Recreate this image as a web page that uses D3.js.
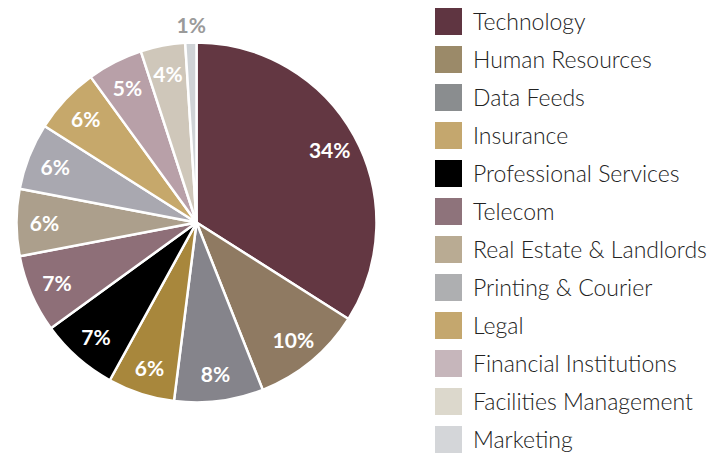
<!DOCTYPE html>
<html>
<head>
<meta charset="utf-8">
<script src="https://cdn.jsdelivr.net/npm/d3@7"></script>
<style>
  html, body { margin: 0; padding: 0; background: #fff; }
  svg { display: block; }
</style>
</head>
<body>
<svg id="chart" width="722" height="454"></svg>
<script>
// spend share by category, clockwise from 12 o'clock
const categories = ['Technology', 'Human Resources', 'Data Feeds', 'Insurance',
  'Professional Services', 'Telecom', 'Real Estate & Landlords', 'Printing & Courier',
  'Legal', 'Financial Institutions', 'Facilities Management', 'Marketing']
const shares = [34, 10, 8, 6, 7, 7, 6, 6, 6, 5, 4, 1]
const sliceColors = ['#633742', '#8f7a62', '#85848b', '#a8873c', '#000000', '#8e6f78',
  '#ac9f8c', '#a9a8b0', '#c6a86b', '#b8a0a8', '#cfc7ba', '#cfd3d6']
const legendColors = ['#5f3541', '#9b8a69', '#8a8d8f', '#c4a76e', '#000000', '#8e737b',
  '#b9ab93', '#aeafb1', '#c4a76e', '#c6b6bb', '#dcd8cc', '#d4d6d9']

const CX = 196.5
const CY = 222.5
const R = 180
const LABEL_R = 152

const svg = d3.select('#chart')
const data = categories.map((c, i) => ({ name: c, value: shares[i], color: sliceColors[i], legend: legendColors[i] }))

const pie = d3.pie().value(d => d.value).sort(null)
const arc = d3.arc().innerRadius(0).outerRadius(R)
const labelArc = d3.arc().innerRadius(LABEL_R).outerRadius(LABEL_R)

const g = svg.append('g').attr('transform', `translate(${CX},${CY})`)
const arcs = pie(data)

g.selectAll('path.slice')
  .data(arcs)
  .enter().append('path')
  .classed('slice', true)
  .attr('d', arc)
  .attr('fill', d => d.data.color)
  .attr('stroke', '#fff')
  .attr('stroke-width', 2.5)
  .attr('stroke-linejoin', 'round')

// labels: inside for the big enough slices, the tiny one sits above the rim
g.selectAll('text.pct')
  .data(arcs)
  .enter().append('text')
  .classed('pct', true)
  .attr('transform', d => {
    if (d.data.value < 2) {
      let a = (d.startAngle + d.endAngle) / 2
      return `translate(${Math.sin(a) * (R + 17) + 1},${-Math.cos(a) * (R + 18)})`
    }
    return `translate(${labelArc.centroid(d)})`
  })
  .attr('text-anchor', 'middle')
  .attr('dominant-baseline', 'central')
  .attr('font-family', 'Lato, "Open Sans", sans-serif')
  .attr('font-weight', 700)
  .attr('font-size', 21)
  .attr('fill', d => d.data.value < 2 ? '#9a9a9a' : '#fff')
  .text(d => `${d.data.value}%`)

// legend
const LEG_X = 435
const LEG_Y = 8
const LEG_STEP = 38
const SW = 27

const legend = svg.append('g').classed('legend', true)
const rows = legend.selectAll('g')
  .data(data)
  .enter().append('g')
  .attr('transform', (d, i) => `translate(${LEG_X},${LEG_Y + i * LEG_STEP})`)
rows.append('rect')
  .attr('width', SW)
  .attr('height', SW)
  .attr('fill', d => d.legend)
rows.append('text')
  .attr('x', 38)
  .attr('y', SW / 2 + 8.5)
  .attr('font-family', 'Lato, "Open Sans", sans-serif')
  .attr('font-weight', 300)
  .attr('font-size', 23)
  .attr('fill', '#222')
  .text(d => d.name)
</script>
</body>
</html>
